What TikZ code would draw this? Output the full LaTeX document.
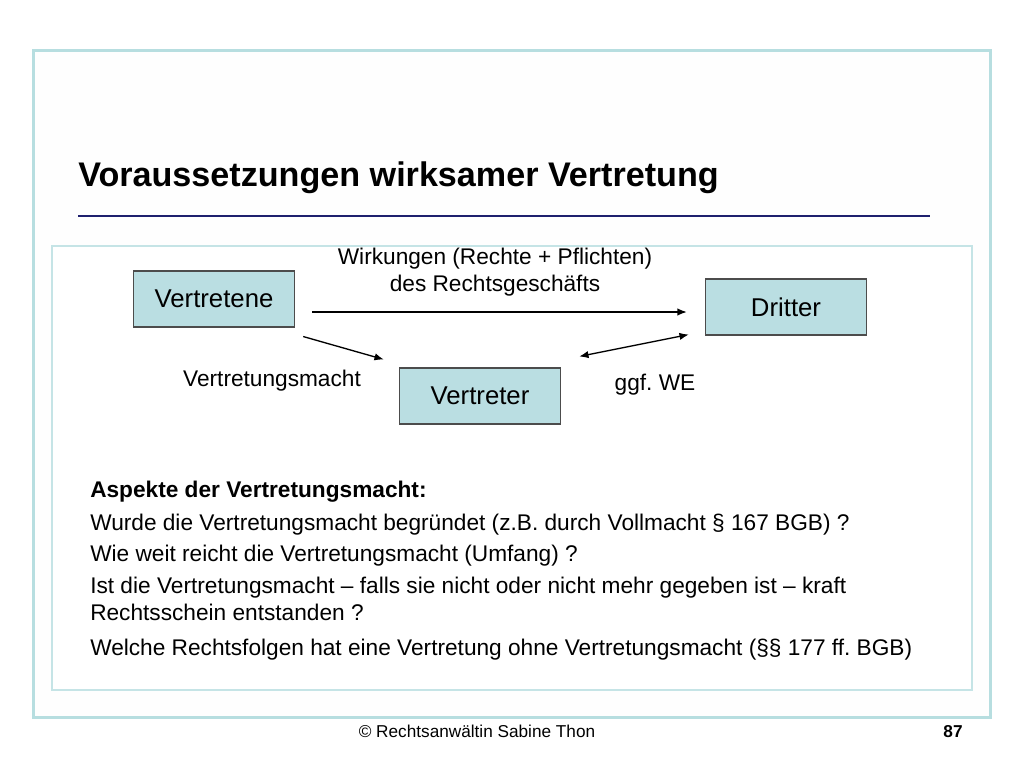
\documentclass[tikz,border=0pt]{standalone}
\usepackage{fontspec}
\setmainfont{Liberation Sans}
\usetikzlibrary{arrows.meta, positioning}

\definecolor{rahmenblau}{RGB}{183,222,224}
\definecolor{innenblau}{RGB}{197,228,230}
\definecolor{boxblau}{RGB}{186,222,226}
\definecolor{linienblau}{RGB}{30,32,110}

\begin{document}
\begin{tikzpicture}[
        x=0.75pt, y=-0.75pt,
        % Rahmen der Folie
        aussenrahmen/.style={
                draw=rahmenblau,
                line width=2.25pt,
                fill=rahmenblau!2
            },
        innenrahmen/.style={
                draw=innenblau,
                line width=1.5pt,
                fill=white
            },
        % Titel
        titel/.style={
                font=\bfseries\fontsize{25.6}{30}\selectfont,
                inner sep=0pt
            },
        % Personen-Kaesten
        person/.style={
                rectangle,
                draw=black!70,
                line width=0.8pt,
                fill=boxblau,
                minimum width=121pt,
                minimum height=42pt,
                font=\fontsize{19.3}{22}\selectfont,
                text centered
            },
        % Beschriftungen und Fragen
        beschriftung/.style={
                font=\fontsize{17}{20.25}\selectfont,
                align=center,
                inner sep=0pt
            },
        punkt/.style={
                font=\fontsize{17}{20.25}\selectfont,
                align=left,
                anchor=base west,
                inner sep=0pt
            },
        fuss/.style={
                font=\fontsize{12.9}{15}\selectfont,
                anchor=base,
                inner sep=0pt
            },
        % Pfeile
        pfeil/.style={
                -{Latex[length=7pt,width=5.5pt]},
                line width=1pt,
                color=black
            },
        doppelpfeil/.style={
                {Latex[length=7pt,width=5.5pt]}-{Latex[length=7pt,width=5.5pt]},
                line width=1pt,
                color=black
            }
    ]

    \useasboundingbox (0,0) rectangle (1024,768);

    % Rahmen
    \draw[aussenrahmen] (33,50) rectangle (990,717);
    \draw[innenrahmen] (52,246) rectangle (972,690);

    % Titel
    \node[titel, anchor=base west] (titel) at (78,186) {Voraussetzungen wirksamer Vertretung};
    \draw[linienblau, line width=1.6pt] (78,216) -- (930,216);

    % Personen
    \node[person] (vertretene) at (214,299) {Vertretene};
    \node[person] (dritter) at (786,307) {Dritter};
    \node[person] (vertreter) at (480,396) {Vertreter};

    % Pfeile zwischen den Personen
    \draw[pfeil] ([shift={(17,13)}]vertretene.east) -- ([shift={(-18,5)}]dritter.west);
    \draw[pfeil] ([shift={(8,9)}]vertretene.south east) -- ([shift={(-15,-8)}]vertreter.north west);
    \draw[doppelpfeil] ([shift={(18,-11)}]vertreter.north east) -- ([shift={(-16,-1)}]dritter.south west);

    % Beschriftungen
    \node[beschriftung] (wirkungen) at (495,272) {Wirkungen (Rechte + Pflichten)\\des Rechtsgeschäfts};
    \node[beschriftung] (macht) at (272,381) {Vertretungsmacht};
    \node[beschriftung] (we) at (655,385) {ggf.\ WE};

    % Aspekte
    \node[punkt, font=\bfseries\fontsize{17}{20.25}\selectfont] (aspekte) at (90,497) {Aspekte der Vertretungsmacht:};
    \node[punkt] (frage1) at (90,530) {Wurde die Vertretungsmacht begründet (z.B.\ durch Vollmacht § 167 BGB) ?};
    \node[punkt] (frage2) at (90,561) {Wie weit reicht die Vertretungsmacht (Umfang) ?};
    \node[punkt] (frage3) at (90,620) {Ist die Vertretungsmacht – falls sie nicht oder nicht mehr gegeben ist – kraft\\Rechtsschein entstanden ?};
    \node[punkt] (frage4) at (90,655) {Welche Rechtsfolgen hat eine Vertretung ohne Vertretungsmacht (§§ 177 ff.\ BGB)};

    % Fusszeile
    \node[fuss] (copyright) at (477,737) {© Rechtsanwältin Sabine Thon};
    \node[fuss, font=\bfseries\fontsize{12.9}{15}\selectfont] (seite) at (953,737) {87};

\end{tikzpicture}
\end{document}
